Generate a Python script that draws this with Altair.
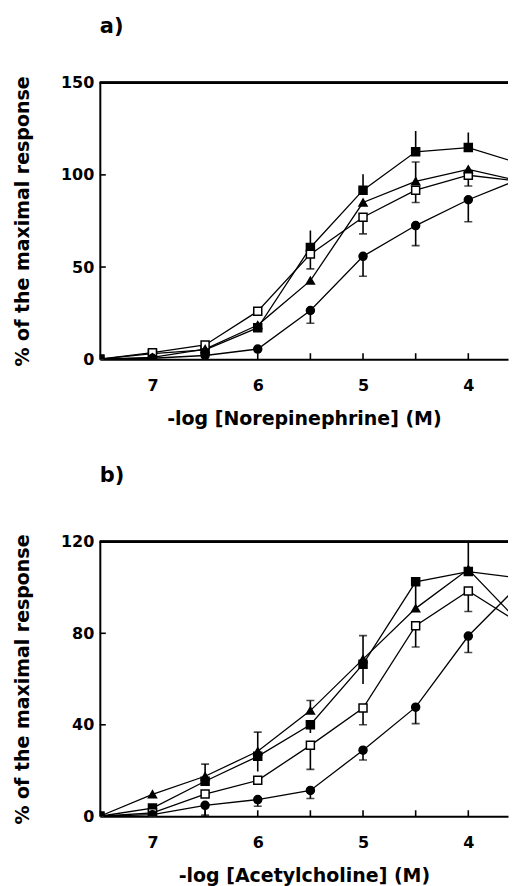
import altair as alt
import pandas as pd

# ---------------- data ----------------
X = [7.5, 7, 6.5, 6, 5.5, 5, 4.5, 4, 3.5]
SERIES = ["fsq", "osq", "tri", "cir"]

# panel a: norepinephrine
A_FSQ = [0, 3.0, 5.0, 17.0, 60.6, 91.7, 112.5, 114.8, 106.0]
A_OSQ = [0, 3.5, 7.7, 26.0, 57.0, 77.0, 91.7, 99.8, 96.5]
A_TRI = [0, 1.0, 5.5, 18.5, 42.6, 85.0, 96.5, 103.0, 96.5]
A_CIR = [0, 0.5, 2.0, 5.5, 26.4, 55.8, 72.5, 86.5, 98.0]

A_ERR_SERIES = ["fsq", "fsq", "fsq", "fsq", "osq", "osq", "osq", "osq", "tri",
                "cir", "cir", "cir", "cir"]
A_ERR_X = [5.5, 5, 4.5, 4, 5.5, 5, 4.5, 4, 4.5, 5.5, 5, 4.5, 4]
A_ERR_END = [69.8, 100.3, 123.8, 123.0, 49.0, 68.0, 85.0, 94.0, 107.0,
             19.5, 45.0, 61.6, 74.6]
A_ERR_CAP = [0, 0, 0, 0, 1, 1, 1, 1, 1, 1, 1, 1, 1]

# panel b: acetylcholine
B_FSQ = [0, 3.6, 15.3, 26.2, 40.0, 66.5, 102.5, 107.0, 104.0]
B_OSQ = [0, 1.5, 9.7, 15.7, 31.0, 47.3, 83.3, 98.5, 84.0]
B_TRI = [0, 9.6, 17.5, 28.4, 46.2, 68.7, 90.9, 108.0, 84.0]
B_CIR = [0, 0.7, 4.8, 7.3, 11.3, 28.9, 47.7, 78.8, 102.0]

B_ERR_SERIES = ["tri", "tri", "tri", "tri", "tri", "fsq", "fsq", "fsq", "fsq",
                "osq", "osq", "osq", "osq", "cir", "cir", "cir", "cir", "cir", "cir"]
B_ERR_X = [6.5, 6, 5.5, 5, 4, 6, 5.5, 5, 4.5, 5.5, 5, 4.5, 4,
           6.5, 6, 5.5, 5, 4.5, 4]
B_ERR_END = [22.8, 36.8, 50.6, 79.0, 120.0, 19.6, 36.4, 57.8, 90.3,
             20.5, 40.0, 74.0, 89.5, 0.5, 4.4, 7.8, 24.6, 40.5, 71.6]
B_ERR_CAP = [1, 1, 1, 1, 0, 0, 0, 0, 0, 1, 1, 1, 1, 1, 1, 1, 1, 1, 1]

X_TICKS = [7, 6.5, 6, 5.5, 5, 4.5, 4]
X_LABELS = [7, 6, 5, 4]
A_YTICKS = [0, 50, 100, 150]
B_YTICKS = [0, 40, 80, 120]

FONT = "DejaVu Sans"
W = 409
X_END = 3.623


def panel(vals, err_s, err_x, err_end, err_cap, ymax, yticks, title, xtitle, H,
          toff):
    rows = []
    for s, v in zip(SERIES, vals):
        for xx, yy in zip(X, v):
            rows.append({"x": xx, "y": yy, "s": s})
    df = pd.DataFrame(rows)
    lut = {(r["s"], r["x"]): r["y"] for r in rows}
    edf = pd.DataFrame({
        "x": err_x,
        "y": [lut[(s, xx)] for s, xx in zip(err_s, err_x)],
        "y2": err_end,
        "cap": err_cap,
        "s": err_s,
    })
    xs = alt.Scale(domain=[7.5, X_END], nice=False, zero=False)
    ys = alt.Scale(domain=[0, ymax], nice=False)
    xax = alt.Axis(values=X_LABELS, format="d", ticks=False, grid=False,
                   domainColor="black", domainWidth=2,
                   labelFont=FONT, labelFontSize=16, labelFontWeight="bold",
                   labelColor="black", labelPadding=18,
                   titleFont=FONT, titleFontSize=19, titleFontWeight="bold",
                   titleColor="black", titlePadding=16, title=xtitle)
    yax = alt.Axis(values=yticks, ticks=False, grid=False,
                   domainColor="black", domainWidth=2,
                   labelFont=FONT, labelFontSize=16, labelFontWeight="bold",
                   labelColor="black", labelPadding=6,
                   titleFont=FONT, titleFontSize=19, titleFontWeight="bold",
                   titleColor="black", titlePadding=28,
                   title="% of the maximal response")

    base = alt.Chart(df)
    lines = base.mark_line(color="black", strokeWidth=1.3, clip=True).encode(
        x=alt.X("x:Q", scale=xs, axis=xax),
        y=alt.Y("y:Q", scale=ys, axis=yax),
        detail="s:N",
        order="x:O",
    )
    ebase = alt.Chart(edf)
    err = ebase.mark_rule(color="black", strokeWidth=1.6, clip=True).encode(
        x=alt.X("x:Q", scale=xs), y=alt.Y("y:Q", scale=ys), y2="y2:Q")
    caps = ebase.transform_filter("datum.cap == 1").mark_tick(
        color="black", orient="horizontal", size=8, thickness=1.6, clip=True
    ).encode(x=alt.X("x:Q", scale=xs), y=alt.Y("y2:Q", scale=ys))
    pts = base.mark_point(filled=True, size=64, stroke="black", strokeWidth=1.5,
                          opacity=1, clip=True).encode(
        x=alt.X("x:Q", scale=xs),
        y=alt.Y("y:Q", scale=ys),
        shape=alt.Shape("s:N", scale=alt.Scale(
            domain=SERIES, range=["square", "square", "triangle-up", "circle"]),
            legend=None),
        fill=alt.Fill("s:N", scale=alt.Scale(
            domain=SERIES, range=["black", "white", "black", "black"]),
            legend=None),
    )
    tickdf = pd.DataFrame({"t": X_TICKS})
    xt = alt.Chart(tickdf).mark_rule(color="black", strokeWidth=1.6).encode(
        x=alt.X("t:Q", scale=xs), y=alt.value(H), y2=alt.value(H - 6))
    ytdf = pd.DataFrame({"t": [v for v in yticks if 0 < v < ymax]})
    yt = alt.Chart(ytdf).mark_rule(color="black", strokeWidth=1.6).encode(
        y=alt.Y("t:Q", scale=ys), x=alt.value(0), x2=alt.value(6))
    top = alt.Chart(tickdf).mark_rule(color="black", strokeWidth=2).encode(
        y=alt.value(0), x=alt.value(0), x2=alt.value(W))

    return alt.layer(lines, err, caps, pts, xt, yt, top).properties(
        width=W, height=H,
        title=alt.TitleParams(title, anchor="start", frame="group", font=FONT,
                              fontSize=21, fontWeight="bold", color="black",
                              offset=toff),
    )


pa = panel([A_FSQ, A_OSQ, A_TRI, A_CIR], A_ERR_SERIES, A_ERR_X, A_ERR_END,
           A_ERR_CAP, 150, A_YTICKS, "a)", "-log [Norepinephrine] (M)", 277, 38)
pb = panel([B_FSQ, B_OSQ, B_TRI, B_CIR], B_ERR_SERIES, B_ERR_X, B_ERR_END,
           B_ERR_CAP, 120, B_YTICKS, "b)", "-log [Acetylcholine] (M)", 275, 48)

chart = alt.vconcat(pa, pb, spacing=37).properties(
    padding={"left": 5, "top": 7, "right": 0, "bottom": 0}
).configure_view(stroke=None).resolve_scale(x="independent", y="independent",
                                            shape="independent", fill="independent")

chart.save("out.html", embed_options={"renderer": "svg", "actions": False})
